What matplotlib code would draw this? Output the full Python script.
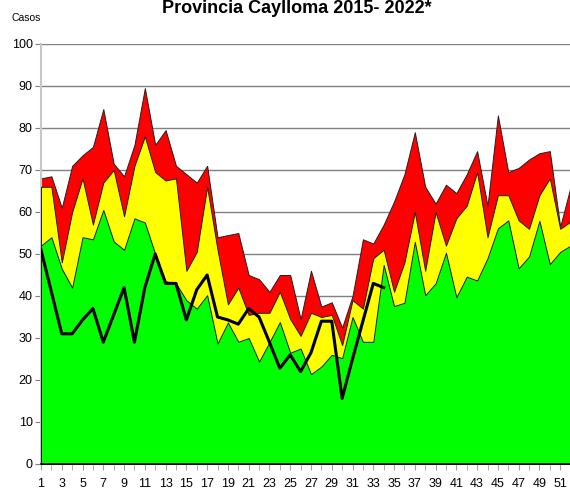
import matplotlib
matplotlib.use('Agg')
import matplotlib.pyplot as plt
import numpy as np

# --- DATOS (semanas epidemiológicas) ---
semanas = list(range(1, 53))

alarma = [68, 68.5, 61, 71, 73.5, 75.5, 84.5, 71.5, 68.5, 76,
          89.5, 76, 79.5, 71, 69, 67, 71, 54, 54.5, 55,
          45, 44, 41, 45, 45, 34.5, 46, 37.5, 38.5, 32.5,
          40, 53.5, 52.5, 57, 62.5, 69, 79, 66, 62, 66.5,
          64.5, 69, 74.5, 61.5, 83, 69.5, 70.5, 72.5, 74, 74.5,
          56.5, 66]

seguridad = [66, 66, 48, 60, 68, 57, 67, 70, 59, 71,
             78, 69.5, 67.5, 68, 46, 50.5, 66, 51, 38, 42,
             35.5, 36, 36, 41, 34.5, 30.5, 36, 35, 35.5, 28.3,
             39, 37, 49, 51, 41, 48, 60, 46, 60, 52,
             58.5, 61.5, 69.5, 54, 64, 64, 58, 56, 64, 68,
             56, 57.7]

exito = [52, 54, 46.5, 42, 54, 53.5, 60.5, 53, 51, 58.5,
         57.5, 50, 43.5, 43, 39, 37, 40.2, 28.7, 33.7, 29.1,
         30, 24.4, 29, 33.8, 26.5, 27.5, 21.4, 23.2, 26, 25.2,
         35, 29.1, 29.1, 47.4, 37.6, 38.4, 52.9, 40.2, 43, 50.3,
         39.7, 44.6, 43.7, 49, 56.1, 58, 46.6, 49.4, 57.9, 47.6,
         50.5, 52]

# casos 2022 (hasta la semana 34)
casos_2022 = [51, 41, 31, 31, 34.3, 37, 29, 35.5, 42, 29,
              42, 50, 43, 43, 34.3, 41.5, 45, 35, 34.3, 33.3,
              37, 35, 29, 22.8, 26, 22, 26.5, 34, 34, 15.6,
              25, 34, 43, 42]

plt.rcParams['font.family'] = ['Liberation Sans Narrow', 'Liberation Sans', 'DejaVu Sans']

fig = plt.figure(figsize=(5.70, 4.93), dpi=100)
ax = fig.add_axes([41 / 570, 1 - 464 / 493, 1 - 41 / 570 + 0.001, 420 / 493])

borde = dict(edgecolor='#202020', linewidth=0.7)
ax.fill_between(semanas, 0, alarma, facecolor='#ff0000', zorder=2, **borde)
ax.fill_between(semanas, 0, seguridad, facecolor='#ffff00', zorder=3, **borde)
ax.fill_between(semanas, 0, exito, facecolor='#00ff00', zorder=4, **borde)
ax.plot(semanas[:len(casos_2022)], casos_2022, color='black', linewidth=2.2, zorder=5)

ax.set_xlim(1, 52)
ax.set_ylim(0, 100)
ax.set_yticks(np.arange(0, 101, 10))
ax.set_xticks(range(1, 53, 2))
ax.set_xticks(range(1, 53), minor=True)
ax.grid(axis='y', color='#808080', linewidth=1.0, zorder=0)
ax.set_axisbelow(True)

ax.tick_params(axis='y', labelsize=9, length=4, color='#808080', pad=2)
ax.tick_params(axis='x', which='both', labelsize=9, length=4, color='#a0a0a0', pad=6)

for lado in ['top', 'right']:
    ax.spines[lado].set_visible(False)
ax.spines['left'].set_color('#c8c8c8')
ax.spines['left'].set_linewidth(1.5)
ax.spines['bottom'].set_color('black')
ax.spines['bottom'].set_linewidth(1.2)
ax.spines['bottom'].set_zorder(6)

fig.text(297 / 570, 1 - 13 / 493, 'Provincia Caylloma 2015- 2022*', ha='center',
         va='baseline', fontsize=13, fontweight='bold')
fig.text(12 / 570, 1 - 21 / 493, 'Casos', ha='left', va='baseline', fontsize=7.5)

fig.savefig('out.png', dpi=100)
